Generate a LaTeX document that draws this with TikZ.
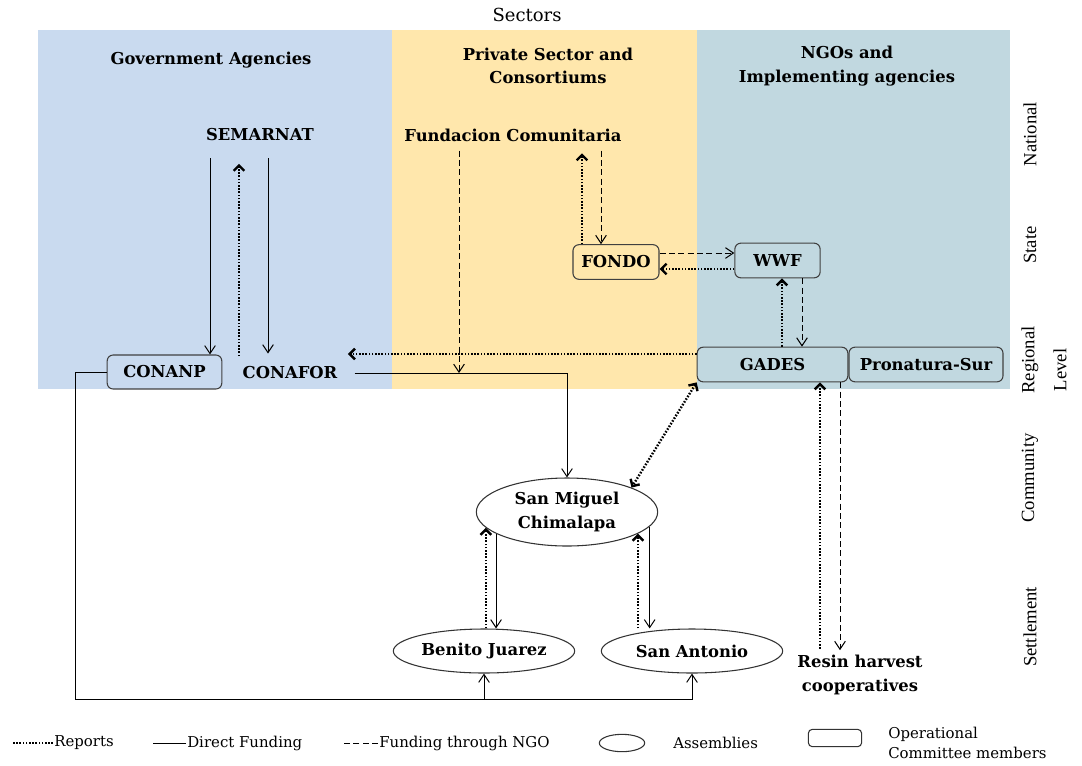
\documentclass[tikz,border=0pt]{standalone}
\usepackage{fontspec}
\setmainfont{DejaVu Serif}
\newfontfamily\levelfont{Liberation Serif}
\usetikzlibrary{arrows.meta,shapes.geometric}

\definecolor{govblue}{RGB}{201,218,239}
\definecolor{privyellow}{RGB}{255,231,172}
\definecolor{ngoteal}{RGB}{193,216,224}

\tikzset{
  fundtip/.tip={Straight Barb[length=6pt,width=8pt]},
  reptip/.tip={Straight Barb[length=4pt,width=8pt]},
}

\begin{document}
\begin{tikzpicture}[x=0.75pt,y=0.75pt,yscale=-1,xscale=1,
  lbl/.style={font=\fontsize{12.3}{17.5}\selectfont\bfseries, inner sep=0.75pt, align=center},
  opbox/.style={lbl, draw=black!75, line width=0.8pt, rounded corners=4.5pt, minimum height=26pt},
  assembly/.style={lbl, ellipse, draw=black!80, line width=0.8pt, inner sep=0pt},
  lvl/.style={font=\levelfont\fontsize{14}{16}\selectfont, rotate=90, inner sep=0.75pt},
  leg/.style={font=\fontsize{11.2}{15}\selectfont, inner sep=0.75pt, align=left},
  fund/.style={line width=0.75pt, -fundtip},
  ngo/.style={line width=0.75pt, dash pattern=on 4.5pt off 2.5pt, -fundtip},
  rep/.style={line width=1.8pt, dash pattern=on 1.2pt off 1.2pt, -reptip},
]
\useasboundingbox (0,0) rectangle (1082,765);

%Shape: Rectangle
\fill[govblue] (38,30) rectangle (392,389);
%Shape: Rectangle
\fill[privyellow] (392,30) rectangle (697,389);
%Shape: Rectangle
\fill[ngoteal] (697,30) rectangle (1010,389);

% Text Node
\node[font=\fontsize{13.5}{16}\selectfont] (sectors) at (527,15) {Sectors};
% Text Node
\node[lbl] (gov) at (211,60) {Government Agencies};
% Text Node
\node[lbl] (priv) at (548,66) {Private Sector and\\Consortiums};
% Text Node
\node[lbl] (ngos) at (847,66) {NGOs and\\Implementing agencies};

% Text Node
\node[lbl] (semarnat) at (260,135) {SEMARNAT};
% Text Node
\node[lbl] (fundacion) at (513,135) {Fundacion Comunitaria};
\node[opbox, minimum width=64.5pt] (fondo) at (616,262) {FONDO};
\node[opbox, minimum width=64pt] (wwf) at (777.5,260.5) {WWF};
\node[opbox, minimum width=113pt] (gades) at (772.5,364.5) {GADES};
\node[opbox, minimum width=115.5pt] (pronatura) at (926,364.5) {Pronatura-Sur};
\node[opbox, minimum width=86pt, minimum height=25.5pt] (conanp) at (164.5,372) {CONANP};
% Text Node
\node[lbl] (conafor) at (290,373) {CONAFOR};

\node[assembly, minimum width=136pt, minimum height=51pt] (chimalapa) at (567,512) {San Miguel\\Chimalapa};
\node[assembly, minimum width=136pt, minimum height=33pt] (benito) at (484,651) {Benito Juarez};
\node[assembly, minimum width=136pt, minimum height=33pt] (antonio) at (692,651) {San Antonio};
% Text Node
\node[lbl] (resin) at (860,675) {Resin harvest\\cooperatives};

% Level labels
\node[lvl] (national) at (1030,134) {National};
\node[lvl] (state) at (1030,245) {State};
\node[lvl] (regional) at (1030,360) {Regional};
\node[lvl] (level) at (1060,370) {Level};
\node[lvl] (community) at (1030,478) {Community};
\node[lvl] (settlement) at (1030,627) {Settlement};

%Straight Lines
\draw[fund, shorten <=12pt] (semarnat.south -| 210,0) -- (conanp.north -| 210,0);
\draw[rep, shorten >=16pt, shorten <=7pt] (conafor.north -| 239,0) -- (semarnat.south -| 239,0);
\draw[fund, shorten <=12pt, shorten >=9pt] (semarnat.south -| 268,0) -- (conafor.north -| 268,0);
\draw[ngo, shorten <=6pt] (fundacion.south -| 459,0) -- (conafor.east -| 459,0);
\draw[fund, shorten <=12pt] (conafor.east) -- (conafor.east -| chimalapa.north) -- (chimalapa.north);
\draw[rep, shorten >=7pt] (gades.west |- 0,354) -- (conafor.east |- 0,354);
\draw[rep, shorten >=8pt] (fondo.north -| 582,0) -- (fundacion.south -| 582,0);
\draw[ngo, shorten <=6pt] (fundacion.south -| 601,0) -- (fondo.north -| 601,0);
\draw[ngo] (fondo.east |- 0,253) -- (wwf.west |- 0,253);
\draw[rep] (wwf.west |- 0,269) -- (fondo.east |- 0,269);
\draw[rep] (gades.north -| 782,0) -- (wwf.south -| 782,0);
\draw[ngo] (wwf.south -| 802,0) -- (gades.north -| 802,0);
\draw[rep, reptip-reptip] (gades.south west) -- (chimalapa.north east);
\draw[rep, shorten <=4pt] (resin.north -| 820,0) -- (gades.south -| 820,0);
\draw[ngo, shorten >=3pt] (gades.south -| 840,0) -- (resin.north -| 840,0);
\draw[rep] (benito.north -| chimalapa.191) -- (chimalapa.191);
\draw[fund] (chimalapa.197) -- (benito.north -| chimalapa.197);
\draw[rep] (antonio.north -| chimalapa.343) -- (chimalapa.343);
\draw[fund] (chimalapa.350) -- (antonio.north -| chimalapa.350);
\draw[fund] (conanp.west) -- ++(-31,0) |- (antonio.south |- 0,699) -- (antonio.south);
\draw[fund] (benito.south |- 0,699) -- (benito.south);

% Legend
\node[leg, anchor=west] (reports) at (53,743) {Reports};
\draw[rep, -] (reports.west) -- ++(-41,0);
\node[leg, anchor=west] (direct) at (186,743) {Direct Funding};
\draw[fund, -] (direct.west) -- ++(-33,0);
\node[leg, anchor=west] (viango) at (378,743) {Funding through NGO};
\draw[ngo, -] (viango.west) -- ++(-34,0);
\node[ellipse, draw=black!80, line width=0.8pt, minimum width=34pt, minimum height=13pt] (legell) at (622,743) {};
\node[leg, anchor=west] (assemblies) at (672,743) {Assemblies};
\node[draw=black!80, line width=0.8pt, rounded corners=3pt, minimum width=40pt, minimum height=13pt] (legbox) at (835,738) {};
\node[leg, anchor=west] (opcomm) at (887,743) {Operational\\Committee members};

\end{tikzpicture}
\end{document}
